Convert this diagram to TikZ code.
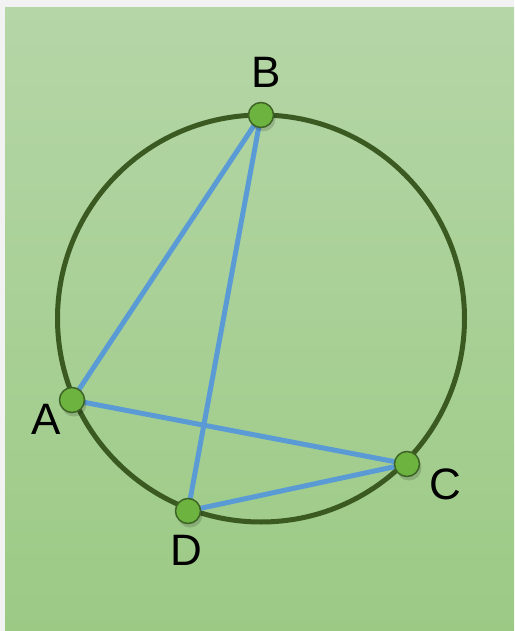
\documentclass[tikz,border=0pt]{standalone}
\usepackage{fontspec}
\setmainfont{Liberation Sans}
\begin{document}
\begin{tikzpicture}[x=1pt,y=-1pt,
  chord/.style={draw=chordblue,line width=5pt},
  dot/.style={circle,minimum size=25pt,inner sep=0pt,fill=dotgreen,draw=dotborder,line width=1.5pt},
  dotshadow/.style={circle,minimum size=25pt,inner sep=0pt,fill=black,opacity=0.15},
  lab/.style={font=\fontsize{44}{44}\selectfont,text=black,inner sep=0pt}]
\definecolor{ringgreen}{HTML}{3A5A22}
\definecolor{chordblue}{HTML}{5B9BD5}
\definecolor{dotgreen}{HTML}{6DB33F}
\definecolor{dotborder}{HTML}{3D6424}
\definecolor{bgtop}{HTML}{B5D6A7}
\definecolor{bgbot}{HTML}{9CCA85}
\definecolor{frame}{HTML}{F2F2F2}
\useasboundingbox (0,0) rectangle (514,631);
\fill[frame] (0,0) rectangle (514,631);
\shade[top color=bgtop,bottom color=bgbot] (5,8) rectangle (514,631);
\node[circle,draw=ringgreen,line width=5pt,minimum size=407pt,inner sep=0pt] (ring) at (261,318.5) {};
\coordinate (A) at (72,400);
\coordinate (B) at (261,115);
\coordinate (C) at (407,464);
\coordinate (D) at (188,511);
\draw[chord] (B) -- (A);
\draw[chord] (B) -- (D);
\draw[chord] (A) -- (C);
\draw[chord] (D) -- (C);
\foreach \p in {A,B,C,D} {
  \node[dotshadow] at ([shift={(2,4)}]\p) {};
  \node[dot] (dot\p) at (\p) {};
}
\node[lab] (labB) at (266,72) {B};
\node[lab] (labA) at (46,419) {A};
\node[lab] (labC) at (445,484) {C};
\node[lab] (labD) at (186,550) {D};
\end{tikzpicture}
\end{document}
